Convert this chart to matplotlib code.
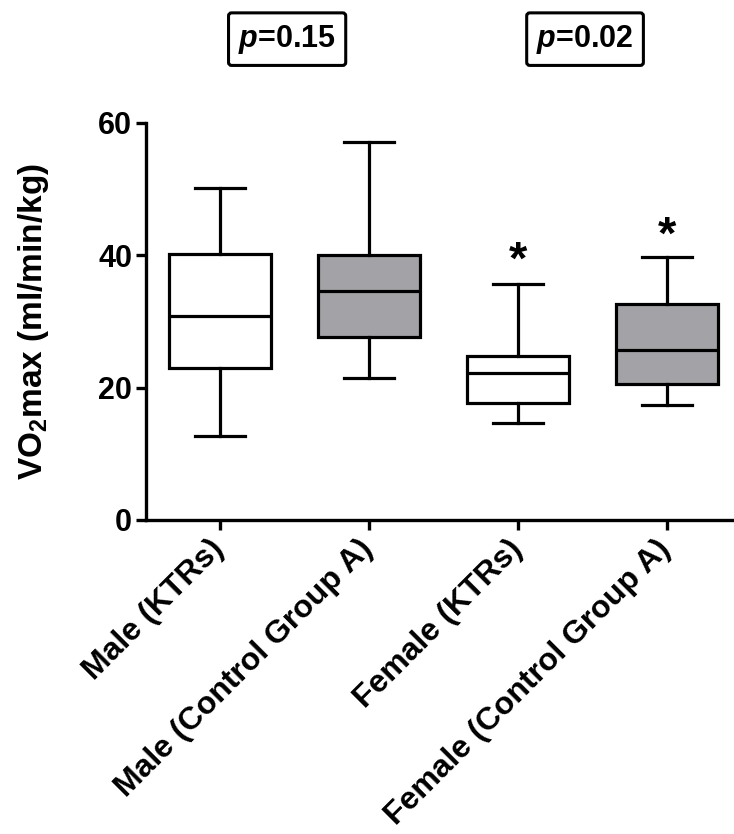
import matplotlib
matplotlib.use("Agg")
import matplotlib.pyplot as plt
import matplotlib.transforms as mtransforms

plt.rcParams['font.family'] = ['Liberation Sans', 'DejaVu Sans']
plt.rcParams['font.weight'] = 'bold'
plt.rcParams['mathtext.fontset'] = 'custom'
plt.rcParams['mathtext.rm'] = 'Liberation Sans:bold'
plt.rcParams['mathtext.bf'] = 'Liberation Sans:bold'
plt.rcParams['mathtext.it'] = 'Liberation Sans:italic'

# box values
groups = ["Male (KTRs)", "Male (Control Group A)", "Female (KTRs)", "Female (Control Group A)"]
whis_lo = [12.7, 21.5, 14.7, 17.3]
q1 = [22.9, 27.6, 17.6, 20.5]
med = [30.8, 34.6, 22.2, 25.7]
q3 = [40.1, 40.0, 24.8, 32.6]
whis_hi = [50.1, 57.0, 35.7, 39.7]
fills = ["white", "#a3a3a7", "white", "#a3a3a7"]

star_y = [None, None, 40.5, 44.3]
p_labels = ["$p$=0.15", "$p$=0.02"]
p_x = [1.45, 3.45]
p_y = 72.6

stats = []
for i in range(len(groups)):
    stats.append(dict(whislo=whis_lo[i], q1=q1[i], med=med[i], q3=q3[i],
                      whishi=whis_hi[i], fliers=[], label=groups[i]))

fig = plt.figure(figsize=(7.34, 8.34), dpi=100)
ax = fig.add_axes([0.199, 0.3765, 0.801, 0.4765])

lw = 2.3
bp = ax.bxp(stats, positions=[1, 2, 3, 4], widths=0.68, patch_artist=True,
            showfliers=False,
            boxprops=dict(linewidth=lw, edgecolor='black'),
            whiskerprops=dict(linewidth=lw, color='black'),
            capprops=dict(linewidth=lw, color='black'),
            medianprops=dict(linewidth=lw, color='black'))
for patch, c in zip(bp['boxes'], fills):
    patch.set_facecolor(c)

# asterisk glyph sits high in its line, so shift the baseline down
for i, y in enumerate(star_y):
    if y is not None:
        ax.annotate("*", (i + 1, y), xytext=(0, -16), textcoords='offset points',
                    ha='center', va='baseline', fontsize=34, fontweight='bold')

for x, s in zip(p_x, p_labels):
    ax.text(x, p_y, s, ha='center', va='center', fontsize=22, fontweight='bold',
            clip_on=False,
            bbox=dict(boxstyle='round,pad=0.32,rounding_size=0.1', fc='white', ec='black', lw=2.2))

ax.set_xlim(0.503, 4.45)
ax.set_ylim(0, 60)
ax.set_yticks([0, 20, 40, 60])
ax.spines['top'].set_visible(False)
ax.spines['right'].set_visible(False)
ax.spines['left'].set_linewidth(2.4)
ax.spines['bottom'].set_linewidth(2.4)
ax.tick_params(axis='both', width=2.4, length=7, labelsize=22, pad=3)
ax.set_xticks([1, 2, 3, 4])
ax.set_xticklabels(groups, rotation=45, ha='right', rotation_mode='anchor', fontsize=23)
shift = mtransforms.ScaledTranslation(-8 / 72, 0, fig.dpi_scale_trans)
for lab in ax.get_xticklabels():
    lab.set_transform(lab.get_transform() + shift)
ax.set_ylabel(r"VO$_\mathbf{2}$max (ml/min/kg)", fontsize=24, fontweight='bold', labelpad=34)

fig.savefig("out.png", dpi=100)
